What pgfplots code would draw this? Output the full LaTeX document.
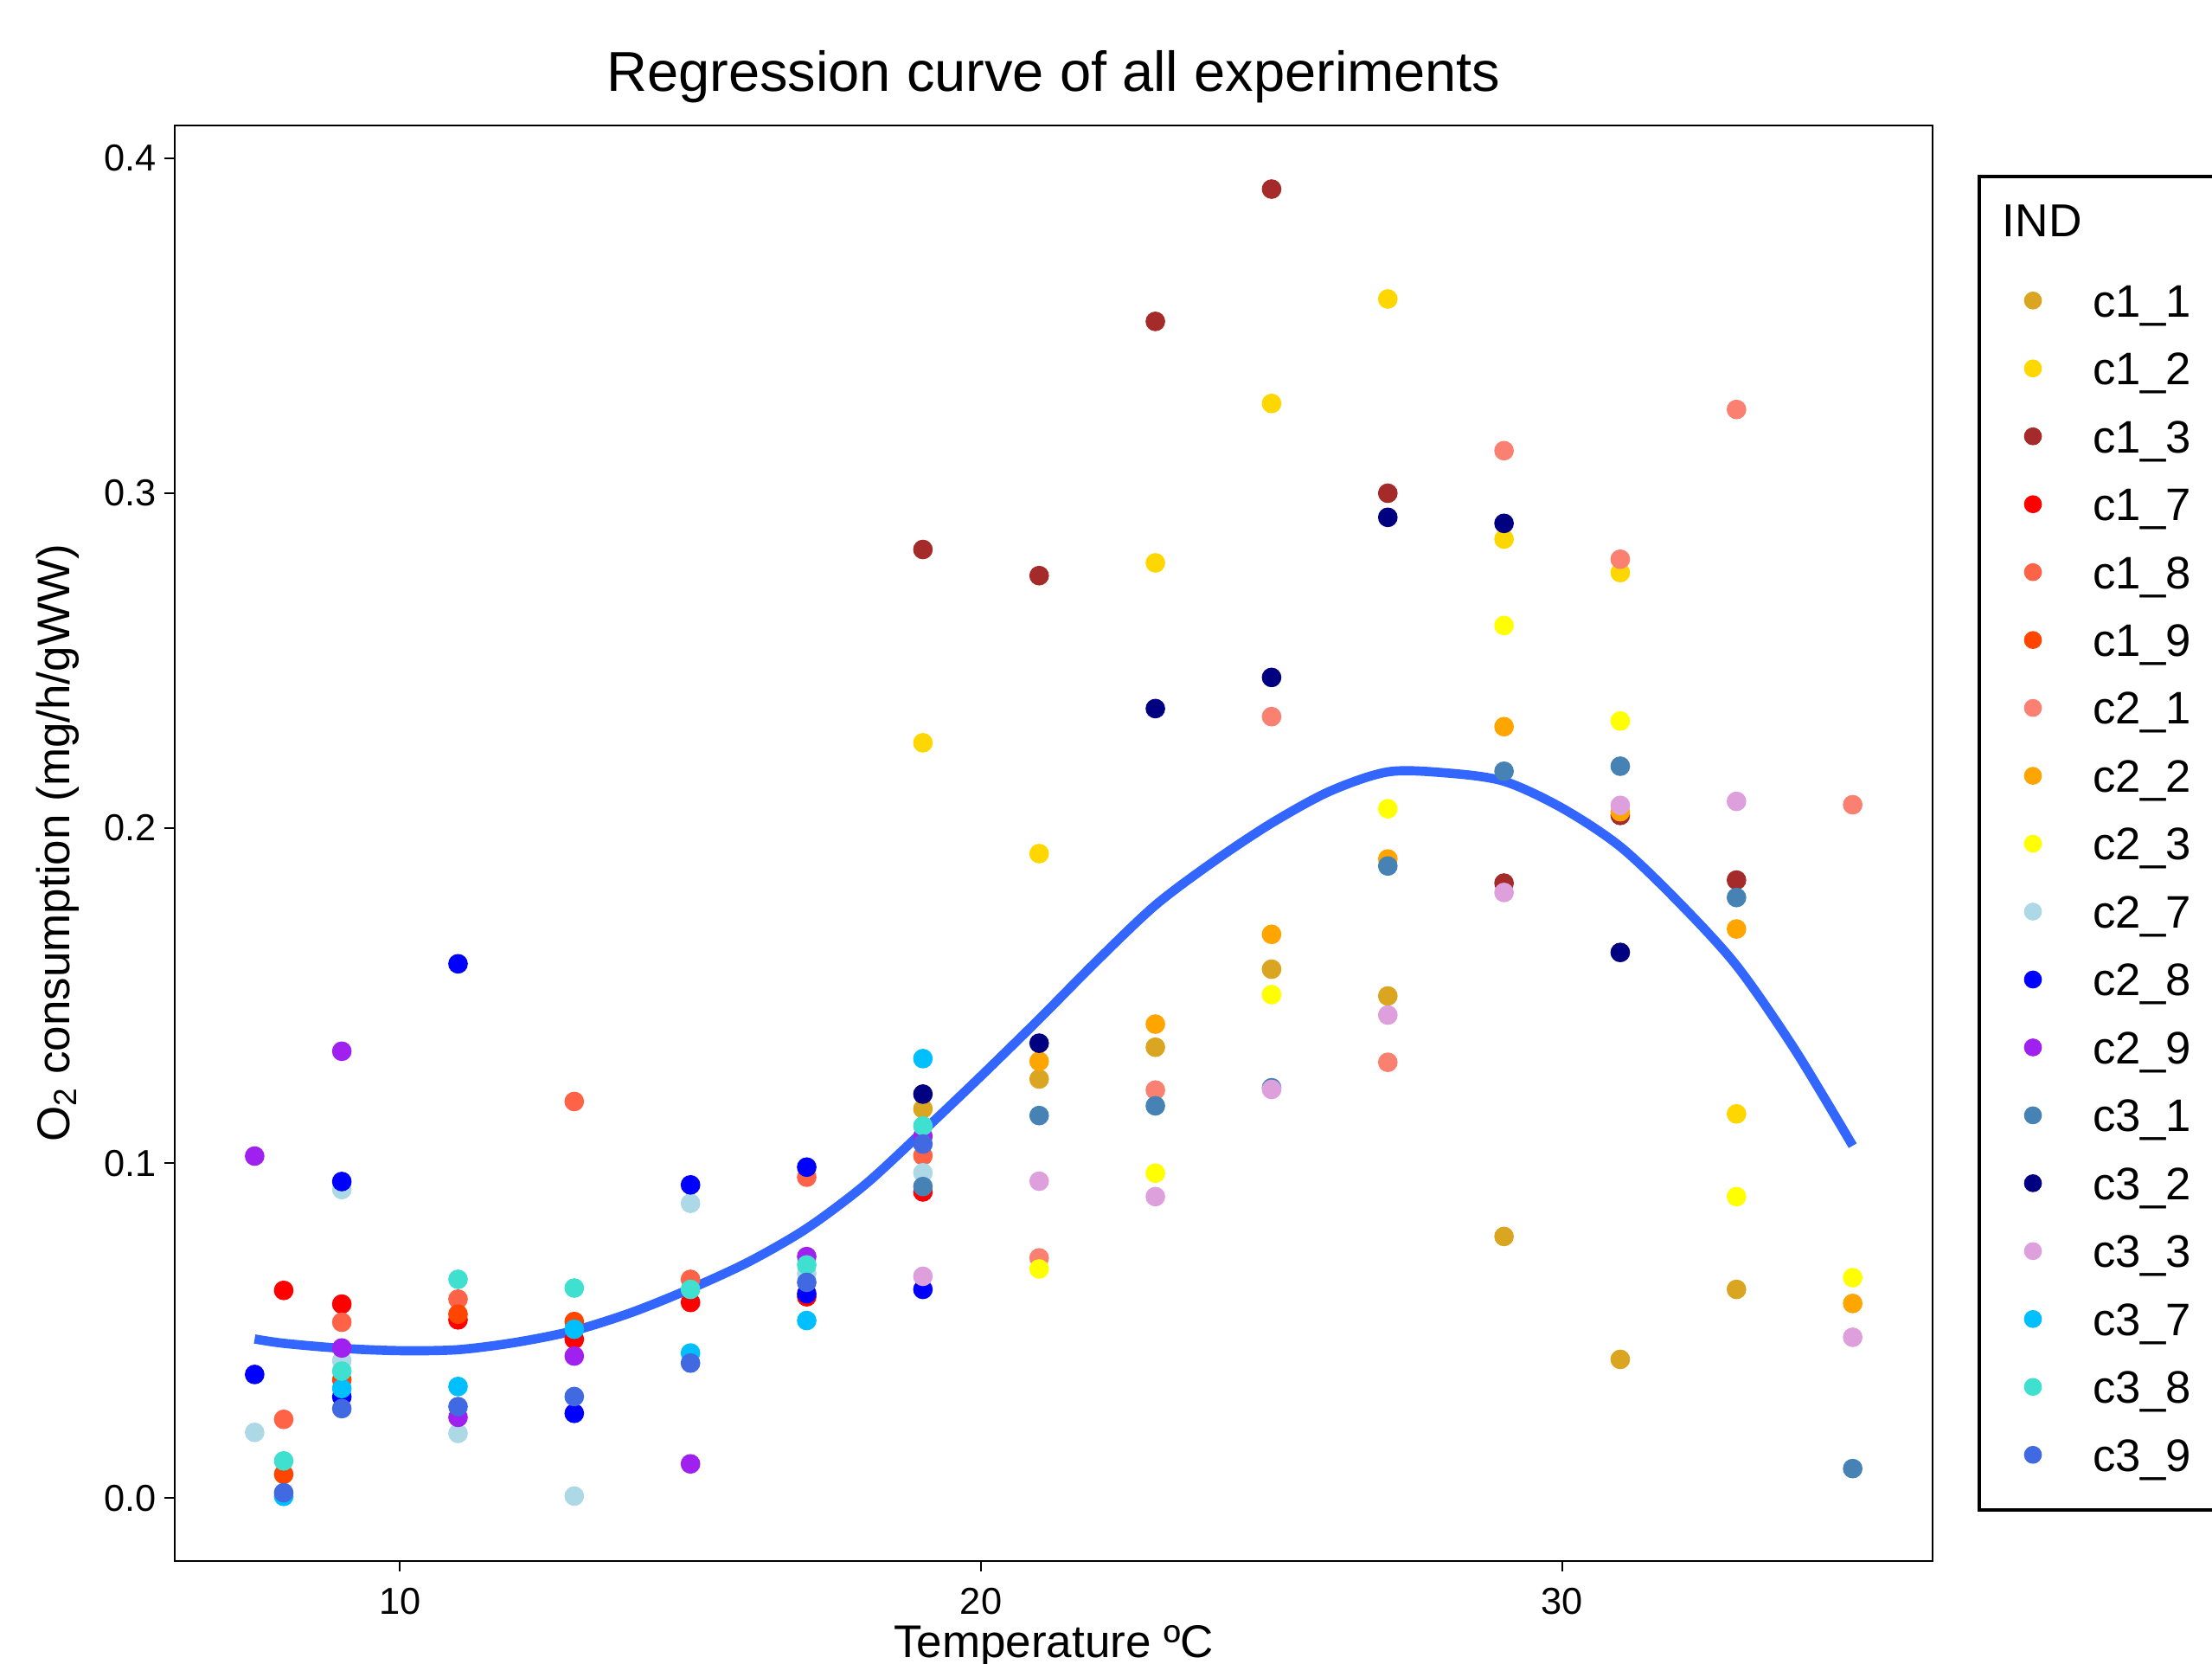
\documentclass[border=0pt]{standalone}
\usepackage{fontspec}
\setmainfont{Liberation Sans}
\usepackage{pgfplots}
\pgfplotsset{compat=1.18}
\definecolor{cgoldenrod}{HTML}{DAA520}
\definecolor{cgold}{HTML}{FFD700}
\definecolor{cbrown}{HTML}{A52A2A}
\definecolor{cred}{HTML}{FF0000}
\definecolor{ctomato}{HTML}{FF6347}
\definecolor{corangered}{HTML}{FF4500}
\definecolor{csalmon}{HTML}{FA8072}
\definecolor{corange}{HTML}{FFA500}
\definecolor{cyellow}{HTML}{FFFF00}
\definecolor{clightblue}{HTML}{ADD8E6}
\definecolor{cblue}{HTML}{0000FF}
\definecolor{cpurple}{HTML}{A020F0}
\definecolor{csteelblue}{HTML}{4682B4}
\definecolor{cnavy}{HTML}{000080}
\definecolor{cplum}{HTML}{DDA0DD}
\definecolor{cdeepsky}{HTML}{00BFFF}
\definecolor{cturq}{HTML}{40E0D0}
\definecolor{croyal}{HTML}{4169E1}
\definecolor{csmooth}{HTML}{3366FF}
\pgfplotsset{pt/.style={only marks, mark=*, mark size=3.2bp, color=#1}}
\newcommand{\legfont}{\fontsize{15.8bp}{19bp}\selectfont}
\begin{document}
\begin{tikzpicture}
\begin{axis}[
  at={(60.6bp,35.7bp)}, anchor=south west,
  scale only axis, width=609.6bp, height=497.7bp,
  xmin=6.125, xmax=36.375, ymin=-0.0188, ymax=0.4098,
  xtick={10,20,30}, ytick={0,0.1,0.2,0.3,0.4},
  yticklabels={0.0,0.1,0.2,0.3,0.4},
  xtick pos=bottom, ytick pos=left,
  tick align=outside, major tick length=3.7bp,
  tick style={black, line width=0.6bp},
  axis line style={line width=0.8bp},
  /pgf/number format/assume math mode=true,
  ticklabel style={font=\fontsize{13bp}{15bp}\selectfont, text=black},
  xticklabel style={yshift=-2.3bp},
  yticklabel style={xshift=0.7bp},
  title={Regression curve of all experiments},
  title style={at={(axis description cs:0.5,1.0117)}, anchor=base, font=\fontsize{19.5bp}{23bp}\selectfont},
  xlabel={Temperature ºC},
  xlabel style={at={(axis description cs:0.5,-0.0675)}, anchor=base, font=\fontsize{15.9bp}{19bp}\selectfont},
  ylabel={O\textsubscript{2} consumption (mg/h/gWW)},
  ylabel style={at={(axis description cs:-0.0599,0.5)}, anchor=base, font=\fontsize{15.9bp}{19bp}\selectfont},
]
\addplot[smooth, color=csmooth, line width=3.2bp] coordinates {
(7.5,0.0475)(8,0.0462)(9,0.0447)(10,0.0440)(11,0.0443)(12,0.0465)(13,0.0500)(14,0.0555)(15,0.0625)(16,0.0705)(17,0.0805)(18,0.0935)(19,0.1095)(20,0.1260)(21,0.1430)(22,0.1605)(23,0.1770)(24,0.1900)(25,0.2015)(26,0.2110)(27,0.2168)(28,0.2165)(29,0.2140)(30,0.2060)(31,0.1945)(32,0.1780)(33,0.1590)(34,0.1340)(35,0.1052)};
% c1_1
\addplot[pt=cgoldenrod] coordinates {(19,0.1162)(21,0.1251)(23,0.1346)(25,0.1579)(27,0.1499)(29,0.0781)(31,0.0414)(33,0.0623)};
% c1_2
\addplot[pt=cgold] coordinates {(19,0.2255)(21,0.1924)(23,0.2792)(25,0.3268)(27,0.3580)(29,0.2863)(31,0.2763)(33,0.1147)};
% c1_3
\addplot[pt=cbrown] coordinates {(19,0.2832)(21,0.2754)(23,0.3513)(25,0.3908)(27,0.3000)(29,0.1836)(31,0.2038)(33,0.1845)};
% c1_7
\addplot[pt=cred] coordinates {(8,0.0620)(9,0.0579)(11,0.0532)(13,0.0474)(15,0.0584)(17,0.0601)(19,0.0914)};
% c1_8
\addplot[pt=ctomato] coordinates {(8,0.0235)(9,0.0525)(11,0.0594)(13,0.1184)(15,0.0653)(17,0.0958)(19,0.1022)};
% c1_9
\addplot[pt=corangered] coordinates {(8,0.0071)(9,0.0353)(11,0.0549)(13,0.0527)};
% c2_1
\addplot[pt=csalmon] coordinates {(21,0.0717)(23,0.1218)(25,0.2333)(27,0.1301)(29,0.3127)(31,0.2803)(33,0.3250)(35,0.2070)};
% c2_2
\addplot[pt=corange] coordinates {(21,0.1304)(23,0.1415)(25,0.1683)(27,0.1908)(29,0.2303)(31,0.2049)(33,0.1699)(35,0.0581)};
% c2_3
\addplot[pt=cyellow] coordinates {(21,0.0684)(23,0.0970)(25,0.1503)(27,0.2058)(29,0.2605)(31,0.2320)(33,0.0900)(35,0.0658)};
% c2_7
\addplot[pt=clightblue] coordinates {(7.5,0.0196)(9,0.0921)(9,0.0410)(11,0.0193)(13,0.0006)(15,0.0880)(17,0.0670)(19,0.0971)};
% c2_8
\addplot[pt=cblue] coordinates {(7.5,0.0369)(9,0.0945)(9,0.0302)(11,0.1595)(13,0.0253)(15,0.0935)(17,0.0988)(17,0.0610)(19,0.0623)};
% c2_9
\addplot[pt=cpurple] coordinates {(7.5,0.1021)(9,0.1334)(9,0.0448)(11,0.0241)(13,0.0424)(15,0.0102)(17,0.0721)(19,0.1080)};
% c3_1
\addplot[pt=csteelblue] coordinates {(19,0.0930)(21,0.1142)(23,0.1171)(25,0.1225)(27,0.1887)(29,0.2170)(31,0.2185)(33,0.1793)(35,0.0088)};
% c3_2
\addplot[pt=cnavy] coordinates {(19,0.1206)(21,0.1358)(23,0.2357)(25,0.2450)(27,0.2928)(29,0.2910)(31,0.1629)};
% c3_3
\addplot[pt=cplum] coordinates {(19,0.0662)(21,0.0946)(23,0.0900)(25,0.1220)(27,0.1442)(29,0.1808)(31,0.2068)(33,0.2080)(35,0.0480)};
% c3_7
\addplot[pt=cdeepsky] coordinates {(8,0.0005)(9,0.0327)(11,0.0333)(13,0.0504)(15,0.0433)(17,0.0530)(19,0.1312)};
% c3_8
\addplot[pt=cturq] coordinates {(8,0.0111)(9,0.0379)(11,0.0653)(13,0.0627)(15,0.0623)(17,0.0696)(19,0.1111)};
% c3_9
\addplot[pt=croyal] coordinates {(8,0.0016)(9,0.0267)(11,0.0273)(13,0.0303)(15,0.0403)(17,0.0644)(19,0.1057)};
\end{axis}
% legend panel
\begin{axis}[
  at={(686.4bp,53.4bp)}, anchor=south west,
  scale only axis, width=110bp, height=462.3bp,
  xmin=0, xmax=110, ymin=0, ymax=462.3,
  xtick=\empty, ytick=\empty,
  axis line style={line width=1.2bp},
  clip=false,
]
\addplot[pt=cgoldenrod, mark size=2.9bp] coordinates {(18.6,419.30)};
\addplot[pt=cgold, mark size=2.9bp] coordinates {(18.6,395.76)};
\addplot[pt=cbrown, mark size=2.9bp] coordinates {(18.6,372.22)};
\addplot[pt=cred, mark size=2.9bp] coordinates {(18.6,348.68)};
\addplot[pt=ctomato, mark size=2.9bp] coordinates {(18.6,325.14)};
\addplot[pt=corangered, mark size=2.9bp] coordinates {(18.6,301.60)};
\addplot[pt=csalmon, mark size=2.9bp] coordinates {(18.6,278.06)};
\addplot[pt=corange, mark size=2.9bp] coordinates {(18.6,254.52)};
\addplot[pt=cyellow, mark size=2.9bp] coordinates {(18.6,230.98)};
\addplot[pt=clightblue, mark size=2.9bp] coordinates {(18.6,207.44)};
\addplot[pt=cblue, mark size=2.9bp] coordinates {(18.6,183.90)};
\addplot[pt=cpurple, mark size=2.9bp] coordinates {(18.6,160.36)};
\addplot[pt=csteelblue, mark size=2.9bp] coordinates {(18.6,136.82)};
\addplot[pt=cnavy, mark size=2.9bp] coordinates {(18.6,113.28)};
\addplot[pt=cplum, mark size=2.9bp] coordinates {(18.6,89.74)};
\addplot[pt=cdeepsky, mark size=2.9bp] coordinates {(18.6,66.20)};
\addplot[pt=cturq, mark size=2.9bp] coordinates {(18.6,42.66)};
\addplot[pt=croyal, mark size=2.9bp] coordinates {(18.6,19.12)};
\node[anchor=base west, inner sep=0pt, font=\fontsize{16bp}{19bp}\selectfont] at (axis cs:7.8,441.3) {IND};
\node[anchor=base west, inner sep=0pt, font=\legfont] at (axis cs:39.1,413.64) {c1\_1};
\node[anchor=base west, inner sep=0pt, font=\legfont] at (axis cs:39.1,390.10) {c1\_2};
\node[anchor=base west, inner sep=0pt, font=\legfont] at (axis cs:39.1,366.56) {c1\_3};
\node[anchor=base west, inner sep=0pt, font=\legfont] at (axis cs:39.1,343.02) {c1\_7};
\node[anchor=base west, inner sep=0pt, font=\legfont] at (axis cs:39.1,319.48) {c1\_8};
\node[anchor=base west, inner sep=0pt, font=\legfont] at (axis cs:39.1,295.94) {c1\_9};
\node[anchor=base west, inner sep=0pt, font=\legfont] at (axis cs:39.1,272.40) {c2\_1};
\node[anchor=base west, inner sep=0pt, font=\legfont] at (axis cs:39.1,248.86) {c2\_2};
\node[anchor=base west, inner sep=0pt, font=\legfont] at (axis cs:39.1,225.32) {c2\_3};
\node[anchor=base west, inner sep=0pt, font=\legfont] at (axis cs:39.1,201.78) {c2\_7};
\node[anchor=base west, inner sep=0pt, font=\legfont] at (axis cs:39.1,178.24) {c2\_8};
\node[anchor=base west, inner sep=0pt, font=\legfont] at (axis cs:39.1,154.70) {c2\_9};
\node[anchor=base west, inner sep=0pt, font=\legfont] at (axis cs:39.1,131.16) {c3\_1};
\node[anchor=base west, inner sep=0pt, font=\legfont] at (axis cs:39.1,107.62) {c3\_2};
\node[anchor=base west, inner sep=0pt, font=\legfont] at (axis cs:39.1,84.08) {c3\_3};
\node[anchor=base west, inner sep=0pt, font=\legfont] at (axis cs:39.1,60.54) {c3\_7};
\node[anchor=base west, inner sep=0pt, font=\legfont] at (axis cs:39.1,37.00) {c3\_8};
\node[anchor=base west, inner sep=0pt, font=\legfont] at (axis cs:39.1,13.46) {c3\_9};
\end{axis}
\pgfresetboundingbox
\useasboundingbox (0,0) rectangle (767.1bp,576.9bp);
\end{tikzpicture}
\end{document}
